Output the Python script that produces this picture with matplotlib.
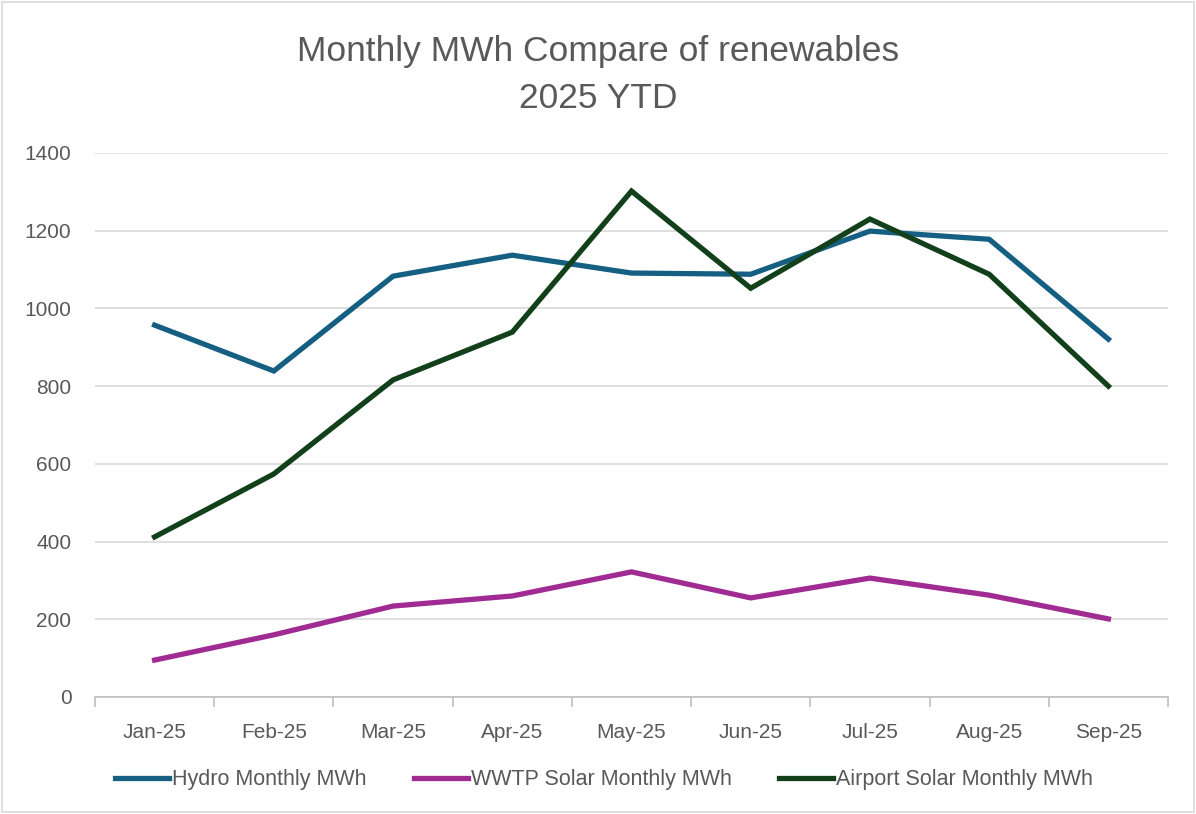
import matplotlib.pyplot as plt
from matplotlib.patches import Rectangle
import numpy as np

# data
months = ['Jan-25', 'Feb-25', 'Mar-25', 'Apr-25', 'May-25', 'Jun-25', 'Jul-25', 'Aug-25', 'Sep-25']
hydro = [957, 839, 1083, 1137, 1091, 1088, 1199, 1178, 921]
wwtp = [95, 160, 234, 260, 322, 255, 306, 262, 201]
airport = [412, 574, 816, 939, 1302, 1052, 1230, 1088, 800]

plt.rcParams['font.family'] = ['Liberation Sans', 'DejaVu Sans']
txt = '#595959'
narrow = ['Liberation Sans Narrow', 'Liberation Sans', 'DejaVu Sans']

fig = plt.figure(figsize=(11.96, 8.14), dpi=100)
ax = fig.add_axes([95/1196, 1 - 697/814, (1168 - 95)/1196, (697 - 153)/814])

# outer chart border like excel
fig.patches.append(Rectangle((0.002, 0.002), 0.996, 0.996, transform=fig.transFigure,
                             fill=False, edgecolor='#d9d9d9', linewidth=1.2))

x = np.arange(len(months))
ax.plot(x, hydro, color='#156082', lw=3.8, label='Hydro Monthly MWh', solid_joinstyle='miter')
ax.plot(x, wwtp, color='#A02B93', lw=3.8, label='WWTP Solar Monthly MWh', solid_joinstyle='miter')
ax.plot(x, airport, color='#12401a', lw=3.8, label='Airport Solar Monthly MWh', solid_joinstyle='miter')

ax.set_xlim(-0.5, len(months) - 0.5)
ax.set_ylim(0, 1400)
ax.set_yticks(np.arange(0, 1401, 200))
ax.yaxis.grid(True, color='#d9d9d9', lw=1.2)
ax.set_axisbelow(True)
for s in ['left', 'right', 'top']:
    ax.spines[s].set_visible(False)
ax.spines['bottom'].set_color('#bfbfbf')
ax.spines['bottom'].set_linewidth(1.2)

ax.tick_params(axis='y', length=0, pad=17, labelsize=15, labelcolor=txt)
ax.set_xticks(x)
ax.set_xticklabels(months, fontsize=15, color=txt, family=narrow)
ax.tick_params(axis='x', which='major', length=0, pad=19)
ax.set_xticks(np.arange(-0.5, len(months), 1), minor=True)
ax.tick_params(axis='x', which='minor', length=7, color='#bfbfbf', width=1.2, direction='out')

fig.text(0.5, 1 - 52/814, 'Monthly MWh Compare of renewables', ha='center', va='center',
         fontsize=25.5, color=txt)
fig.text(0.5, 1 - 98/814, '2025 YTD', ha='center', va='center', fontsize=25.5, color=txt)

leg = fig.legend(loc='center', bbox_to_anchor=(0.505, 1 - 780/814), ncol=3, frameon=False,
                 handlelength=2.5, handletextpad=0.15, columnspacing=2.2,
                 prop={'family': narrow, 'size': 15.5})
for t in leg.get_texts():
    t.set_color(txt)

plt.savefig('out.png', dpi=100)
